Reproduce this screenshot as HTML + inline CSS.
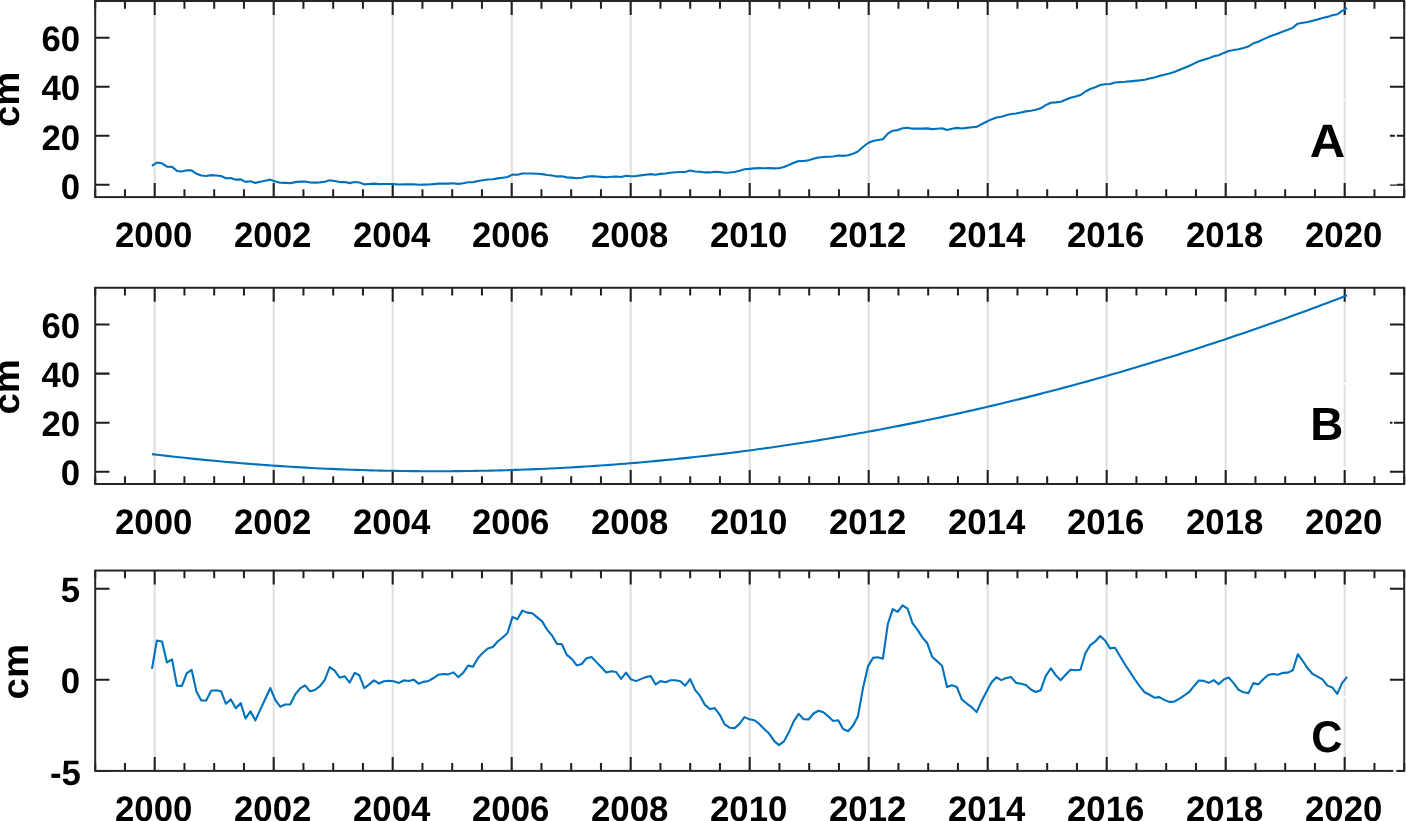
<!DOCTYPE html>
<html lang="en"><head><meta charset="utf-8"><title>Sea level time series</title>
<style>
html,body{margin:0;padding:0;background:#fff;}
body{width:1406px;height:821px;overflow:hidden;}
svg{display:block;}
svg text{font-family:"Liberation Sans",sans-serif;font-weight:bold;font-size:35px;fill:#000;text-rendering:geometricPrecision;}
svg text.yl{font-size:38.3px;}
svg text.pl{font-size:45px;}
</style></head><body>
<svg width="1406" height="821" viewBox="0 0 1406 821">
<rect width="1406" height="821" fill="#fff"/>
<g><path d="M154.70 1.00V197.10M273.70 1.00V197.10M392.70 1.00V197.10M511.70 1.00V197.10M630.70 1.00V197.10M749.70 1.00V197.10M868.70 1.00V197.10M987.70 1.00V197.10M1106.70 1.00V197.10M1225.70 1.00V197.10M1344.70 1.00V197.10" stroke="#e1e1e1" stroke-width="2.2" fill="none"/><path d="M95.20 1.00v7.8M95.20 197.10v-7.8M124.95 1.00v7.8M124.95 197.10v-7.8M184.45 1.00v7.8M184.45 197.10v-7.8M214.20 1.00v7.8M214.20 197.10v-7.8M243.95 1.00v7.8M243.95 197.10v-7.8M303.45 1.00v7.8M303.45 197.10v-7.8M333.20 1.00v7.8M333.20 197.10v-7.8M362.95 1.00v7.8M362.95 197.10v-7.8M422.45 1.00v7.8M422.45 197.10v-7.8M452.20 1.00v7.8M452.20 197.10v-7.8M481.95 1.00v7.8M481.95 197.10v-7.8M541.45 1.00v7.8M541.45 197.10v-7.8M571.20 1.00v7.8M571.20 197.10v-7.8M600.95 1.00v7.8M600.95 197.10v-7.8M660.45 1.00v7.8M660.45 197.10v-7.8M690.20 1.00v7.8M690.20 197.10v-7.8M719.95 1.00v7.8M719.95 197.10v-7.8M779.45 1.00v7.8M779.45 197.10v-7.8M809.20 1.00v7.8M809.20 197.10v-7.8M838.95 1.00v7.8M838.95 197.10v-7.8M898.45 1.00v7.8M898.45 197.10v-7.8M928.20 1.00v7.8M928.20 197.10v-7.8M957.95 1.00v7.8M957.95 197.10v-7.8M1017.45 1.00v7.8M1017.45 197.10v-7.8M1047.20 1.00v7.8M1047.20 197.10v-7.8M1076.95 1.00v7.8M1076.95 197.10v-7.8M1136.45 1.00v7.8M1136.45 197.10v-7.8M1166.20 1.00v7.8M1166.20 197.10v-7.8M1195.95 1.00v7.8M1195.95 197.10v-7.8M1255.45 1.00v7.8M1255.45 197.10v-7.8M1285.20 1.00v7.8M1285.20 197.10v-7.8M1314.95 1.00v7.8M1314.95 197.10v-7.8M1374.45 1.00v7.8M1374.45 197.10v-7.8M1404.20 1.00v7.8M1404.20 197.10v-7.8" stroke="#1e1e1e" stroke-width="2" fill="none"/><path d="M154.70 1.00v14M154.70 197.10v-14M273.70 1.00v14M273.70 197.10v-14M392.70 1.00v14M392.70 197.10v-14M511.70 1.00v14M511.70 197.10v-14M630.70 1.00v14M630.70 197.10v-14M749.70 1.00v14M749.70 197.10v-14M868.70 1.00v14M868.70 197.10v-14M987.70 1.00v14M987.70 197.10v-14M1106.70 1.00v14M1106.70 197.10v-14M1225.70 1.00v14M1225.70 197.10v-14M1344.70 1.00v14M1344.70 197.10v-14M95.20 184.84h14.3M1404.20 184.84h-14.3M95.20 135.82h14.3M1404.20 135.82h-14.3M95.20 86.79h14.3M1404.20 86.79h-14.3M95.20 37.77h14.3M1404.20 37.77h-14.3" stroke="#1e1e1e" stroke-width="2.05" fill="none"/><rect x="95.2" y="1.0" width="1309.0" height="196.10" stroke="#262626" stroke-width="2" fill="none"/><rect x="1343" y="99.7" width="4" height="1.6" fill="#fff"/><rect x="1394.8" y="134" width="2" height="3.2" fill="#fff"/><rect x="1389.3" y="183.0" width="7.7" height="1.5" fill="#fff"/><polyline points="151.94,165.77 156.87,162.55 161.99,163.27 166.92,166.67 172.04,166.83 176.97,170.92 181.91,171.48 186.66,170.31 191.59,170.34 196.52,173.79 201.28,175.45 206.21,175.94 211.14,175.11 216.26,175.52 221.01,176.08 225.94,178.22 230.88,178.06 235.81,179.67 240.74,179.39 245.49,181.87 250.43,181.28 255.36,182.89 260.29,181.81 265.23,180.75 270.34,179.64 275.28,181.58 280.21,182.82 285.14,182.84 290.26,183.17 295.19,182.11 300.13,181.59 305.06,181.45 309.99,182.53 314.93,182.60 319.86,182.35 324.80,181.73 329.73,180.24 334.66,180.95 339.64,182.09 344.57,182.09 349.69,183.14 354.62,182.01 359.38,182.49 364.31,184.37 369.24,184.02 373.99,183.61 378.93,184.15 383.86,183.97 388.79,184.00 393.73,184.17 398.66,184.48 403.78,184.21 408.71,184.34 413.64,184.22 418.58,184.81 423.51,184.59 428.63,184.49 433.56,184.11 438.49,183.67 443.43,183.56 448.36,183.59 453.29,183.28 458.23,183.88 463.16,183.27 468.09,182.22 473.03,182.30 477.96,181.03 482.89,180.25 487.83,179.56 492.76,179.25 497.70,178.39 502.63,177.72 507.56,176.96 512.50,174.64 517.43,174.79 522.36,173.46 527.34,173.55 532.28,173.43 537.21,173.78 542.14,174.11 547.08,174.99 552.01,175.54 556.94,176.42 561.88,176.21 566.81,177.37 571.74,177.63 576.68,178.23 581.61,177.73 586.54,176.66 591.48,176.17 596.41,176.53 601.34,176.88 606.28,177.24 611.21,176.71 616.14,176.43 621.08,176.99 626.01,175.74 630.94,176.24 635.88,176.08 640.81,175.38 645.75,174.68 650.68,174.09 655.61,174.77 660.55,173.86 665.48,173.53 670.41,172.78 675.35,172.28 680.28,171.93 685.21,172.00 690.15,170.59 695.08,171.51 700.01,171.77 704.95,172.42 709.88,172.42 714.81,171.72 719.79,172.01 724.73,172.72 729.66,172.55 734.59,171.98 739.53,170.79 744.46,169.24 749.39,168.89 754.33,168.35 759.26,168.17 764.19,168.18 769.13,168.10 774.06,168.38 778.99,168.24 783.93,167.03 788.86,165.06 793.80,162.82 798.73,161.09 803.66,161.04 808.60,160.31 813.53,158.72 818.46,157.56 823.40,156.95 828.33,156.70 833.26,156.49 838.20,155.55 843.13,155.89 848.06,155.33 853.00,153.73 857.93,151.57 862.86,147.00 868.07,142.99 873.01,140.98 877.94,139.98 882.87,139.25 887.81,133.64 892.74,130.68 897.67,130.09 902.61,128.23 907.54,127.69 912.47,128.67 917.41,128.53 922.34,128.58 927.27,128.34 932.21,129.15 937.14,128.68 942.07,128.24 947.01,130.05 951.94,128.73 956.87,127.90 961.81,128.45 966.74,127.91 971.67,127.29 976.61,126.83 981.54,124.22 986.48,121.80 991.41,119.41 996.34,117.53 1001.28,116.75 1006.21,115.27 1011.14,113.95 1016.08,113.53 1021.01,112.44 1025.94,111.36 1030.88,110.73 1035.81,109.83 1040.74,108.32 1045.68,105.16 1050.84,102.77 1055.77,102.41 1060.71,101.78 1065.64,99.73 1070.57,97.74 1075.51,96.49 1080.44,95.07 1085.37,91.51 1090.31,89.04 1095.24,87.18 1100.17,85.06 1105.11,84.28 1110.04,83.93 1114.97,82.44 1119.91,82.13 1124.84,81.80 1129.77,81.34 1134.71,80.91 1139.64,80.38 1144.57,79.72 1149.51,78.58 1154.44,77.47 1159.38,75.89 1164.31,74.75 1169.24,73.49 1174.18,71.93 1179.11,69.99 1184.04,68.01 1188.98,65.98 1193.91,63.59 1198.84,61.24 1203.78,59.69 1208.71,58.35 1213.73,56.33 1218.66,55.24 1223.78,52.90 1228.71,51.00 1233.65,50.08 1238.58,49.32 1243.51,47.95 1248.45,46.38 1253.38,43.33 1258.31,41.79 1263.25,39.38 1268.18,37.08 1273.11,35.19 1278.05,33.53 1282.98,31.52 1287.92,29.72 1292.85,27.62 1297.78,23.66 1302.72,22.76 1307.65,21.93 1312.58,20.86 1317.52,19.40 1322.45,17.92 1327.38,16.90 1332.32,15.27 1337.25,14.26 1342.18,10.89 1347.12,8.18" stroke="#0072bd" stroke-width="2.1" fill="none" stroke-linejoin="round"/><text transform="translate(153.70 247.00) scale(.993 1.012)" text-anchor="middle">2000</text><text transform="translate(272.70 247.00) scale(.993 1.012)" text-anchor="middle">2002</text><text transform="translate(391.70 247.00) scale(.993 1.012)" text-anchor="middle">2004</text><text transform="translate(510.70 247.00) scale(.993 1.012)" text-anchor="middle">2006</text><text transform="translate(629.70 247.00) scale(.993 1.012)" text-anchor="middle">2008</text><text transform="translate(748.70 247.00) scale(.993 1.012)" text-anchor="middle">2010</text><text transform="translate(867.70 247.00) scale(.993 1.012)" text-anchor="middle">2012</text><text transform="translate(986.70 247.00) scale(.993 1.012)" text-anchor="middle">2014</text><text transform="translate(1105.70 247.00) scale(.993 1.012)" text-anchor="middle">2016</text><text transform="translate(1224.70 247.00) scale(.993 1.012)" text-anchor="middle">2018</text><text transform="translate(1343.70 247.00) scale(.993 1.012)" text-anchor="middle">2020</text><text transform="translate(80.1 199.14) scale(.993 1.012)" text-anchor="end">0</text><text transform="translate(80.1 149.62) scale(.993 1.012)" text-anchor="end">20</text><text transform="translate(80.1 99.99) scale(.993 1.012)" text-anchor="end">40</text><text transform="translate(80.1 50.82) scale(.993 1.012)" text-anchor="end">60</text><text transform="translate(19.35 99.45) rotate(-90) scale(1 .96)" text-anchor="middle" class="yl">cm</text><text transform="translate(1327.5 156.9) scale(1.0896 1.039)" text-anchor="middle" class="pl">A</text></g>
<g><path d="M154.70 287.75V484.00M273.70 287.75V484.00M392.70 287.75V484.00M511.70 287.75V484.00M630.70 287.75V484.00M749.70 287.75V484.00M868.70 287.75V484.00M987.70 287.75V484.00M1106.70 287.75V484.00M1225.70 287.75V484.00M1344.70 287.75V484.00" stroke="#e1e1e1" stroke-width="2.2" fill="none"/><path d="M95.20 287.75v7.8M95.20 484.00v-7.8M124.95 287.75v7.8M124.95 484.00v-7.8M184.45 287.75v7.8M184.45 484.00v-7.8M214.20 287.75v7.8M214.20 484.00v-7.8M243.95 287.75v7.8M243.95 484.00v-7.8M303.45 287.75v7.8M303.45 484.00v-7.8M333.20 287.75v7.8M333.20 484.00v-7.8M362.95 287.75v7.8M362.95 484.00v-7.8M422.45 287.75v7.8M422.45 484.00v-7.8M452.20 287.75v7.8M452.20 484.00v-7.8M481.95 287.75v7.8M481.95 484.00v-7.8M541.45 287.75v7.8M541.45 484.00v-7.8M571.20 287.75v7.8M571.20 484.00v-7.8M600.95 287.75v7.8M600.95 484.00v-7.8M660.45 287.75v7.8M660.45 484.00v-7.8M690.20 287.75v7.8M690.20 484.00v-7.8M719.95 287.75v7.8M719.95 484.00v-7.8M779.45 287.75v7.8M779.45 484.00v-7.8M809.20 287.75v7.8M809.20 484.00v-7.8M838.95 287.75v7.8M838.95 484.00v-7.8M898.45 287.75v7.8M898.45 484.00v-7.8M928.20 287.75v7.8M928.20 484.00v-7.8M957.95 287.75v7.8M957.95 484.00v-7.8M1017.45 287.75v7.8M1017.45 484.00v-7.8M1047.20 287.75v7.8M1047.20 484.00v-7.8M1076.95 287.75v7.8M1076.95 484.00v-7.8M1136.45 287.75v7.8M1136.45 484.00v-7.8M1166.20 287.75v7.8M1166.20 484.00v-7.8M1195.95 287.75v7.8M1195.95 484.00v-7.8M1255.45 287.75v7.8M1255.45 484.00v-7.8M1285.20 287.75v7.8M1285.20 484.00v-7.8M1314.95 287.75v7.8M1314.95 484.00v-7.8M1374.45 287.75v7.8M1374.45 484.00v-7.8M1404.20 287.75v7.8M1404.20 484.00v-7.8" stroke="#1e1e1e" stroke-width="2" fill="none"/><path d="M154.70 287.75v14M154.70 484.00v-14M273.70 287.75v14M273.70 484.00v-14M392.70 287.75v14M392.70 484.00v-14M511.70 287.75v14M511.70 484.00v-14M630.70 287.75v14M630.70 484.00v-14M749.70 287.75v14M749.70 484.00v-14M868.70 287.75v14M868.70 484.00v-14M987.70 287.75v14M987.70 484.00v-14M1106.70 287.75v14M1106.70 484.00v-14M1225.70 287.75v14M1225.70 484.00v-14M1344.70 287.75v14M1344.70 484.00v-14M95.20 471.73h14.3M1404.20 471.73h-14.3M95.20 422.67h14.3M1404.20 422.67h-14.3M95.20 373.61h14.3M1404.20 373.61h-14.3M95.20 324.55h14.3M1404.20 324.55h-14.3" stroke="#1e1e1e" stroke-width="2.05" fill="none"/><rect x="95.2" y="287.75" width="1309.0" height="196.25" stroke="#262626" stroke-width="2" fill="none"/><rect x="1343" y="382.8" width="4" height="1.8" fill="#fff"/><rect x="1392.4" y="421" width="1.6" height="3.2" fill="#fff"/><rect x="1343" y="466.6" width="4" height="2.9" fill="#fff"/><polyline points="151.94,454.12 156.92,454.72 161.90,455.30 166.88,455.88 171.86,456.44 176.84,456.99 181.82,457.53 186.80,458.07 191.78,458.59 196.76,459.10 201.74,459.60 206.72,460.09 211.70,460.57 216.68,461.04 221.66,461.49 226.64,461.94 231.62,462.38 236.60,462.80 241.58,463.22 246.56,463.63 251.54,464.02 256.52,464.41 261.50,464.78 266.48,465.14 271.46,465.50 276.44,465.84 281.42,466.17 286.40,466.49 291.38,466.80 296.36,467.10 301.34,467.39 306.32,467.67 311.30,467.94 316.28,468.20 321.26,468.45 326.24,468.68 331.22,468.91 336.20,469.13 341.18,469.33 346.16,469.53 351.14,469.71 356.12,469.89 361.10,470.05 366.08,470.20 371.06,470.35 376.04,470.48 381.02,470.60 386.00,470.71 390.98,470.81 395.96,470.90 400.94,470.98 405.92,471.05 410.90,471.11 415.88,471.16 420.86,471.19 425.84,471.22 430.82,471.24 435.80,471.24 440.77,471.24 445.75,471.22 450.73,471.20 455.71,471.16 460.69,471.12 465.67,471.06 470.65,470.99 475.63,470.91 480.61,470.82 485.59,470.73 490.57,470.62 495.55,470.50 500.53,470.36 505.51,470.22 510.49,470.07 515.47,469.91 520.45,469.74 525.43,469.55 530.41,469.36 535.39,469.16 540.37,468.94 545.35,468.72 550.33,468.48 555.31,468.23 560.29,467.98 565.27,467.71 570.25,467.43 575.23,467.14 580.21,466.84 585.19,466.53 590.17,466.21 595.15,465.88 600.13,465.54 605.11,465.19 610.09,464.83 615.07,464.46 620.05,464.07 625.03,463.68 630.01,463.28 634.99,462.86 639.97,462.44 644.95,462.00 649.93,461.56 654.91,461.10 659.89,460.63 664.87,460.15 669.85,459.67 674.83,459.17 679.81,458.66 684.79,458.14 689.77,457.61 694.75,457.07 699.73,456.52 704.71,455.95 709.69,455.38 714.67,454.80 719.65,454.21 724.63,453.60 729.61,452.99 734.59,452.36 739.57,451.73 744.55,451.08 749.53,450.43 754.51,449.76 759.49,449.08 764.47,448.39 769.45,447.69 774.43,446.99 779.41,446.27 784.39,445.54 789.37,444.80 794.35,444.05 799.33,443.28 804.31,442.51 809.29,441.73 814.27,440.94 819.25,440.13 824.23,439.32 829.21,438.49 834.19,437.66 839.17,436.81 844.15,435.96 849.13,435.09 854.11,434.21 859.09,433.33 864.07,432.43 869.05,431.52 874.03,430.60 879.01,429.67 883.99,428.73 888.97,427.78 893.95,426.82 898.93,425.85 903.91,424.86 908.89,423.87 913.87,422.87 918.85,421.85 923.83,420.83 928.81,419.79 933.79,418.75 938.77,417.69 943.75,416.63 948.72,415.55 953.70,414.46 958.68,413.36 963.66,412.26 968.64,411.14 973.62,410.01 978.60,408.87 983.58,407.72 988.56,406.56 993.54,405.39 998.52,404.20 1003.50,403.01 1008.48,401.81 1013.46,400.59 1018.44,399.37 1023.42,398.14 1028.40,396.89 1033.38,395.63 1038.36,394.37 1043.34,393.09 1048.32,391.80 1053.30,390.51 1058.28,389.20 1063.26,387.88 1068.24,386.55 1073.22,385.21 1078.20,383.86 1083.18,382.50 1088.16,381.13 1093.14,379.75 1098.12,378.35 1103.10,376.95 1108.08,375.54 1113.06,374.11 1118.04,372.68 1123.02,371.24 1128.00,369.78 1132.98,368.31 1137.96,366.84 1142.94,365.35 1147.92,363.85 1152.90,362.35 1157.88,360.83 1162.86,359.30 1167.84,357.76 1172.82,356.21 1177.80,354.65 1182.78,353.08 1187.76,351.50 1192.74,349.90 1197.72,348.30 1202.70,346.69 1207.68,345.06 1212.66,343.43 1217.64,341.79 1222.62,340.13 1227.60,338.47 1232.58,336.79 1237.56,335.10 1242.54,333.41 1247.52,331.70 1252.50,329.98 1257.48,328.25 1262.46,326.51 1267.44,324.76 1272.42,323.00 1277.40,321.23 1282.38,319.45 1287.36,317.66 1292.34,315.86 1297.32,314.04 1302.30,312.22 1307.28,310.39 1312.26,308.54 1317.24,306.69 1322.22,304.82 1327.20,302.94 1332.18,301.06 1337.16,299.16 1342.14,297.25 1347.12,295.34" stroke="#0072bd" stroke-width="2.1" fill="none" stroke-linejoin="round"/><text transform="translate(153.70 534.10) scale(.993 1.012)" text-anchor="middle">2000</text><text transform="translate(272.70 534.10) scale(.993 1.012)" text-anchor="middle">2002</text><text transform="translate(391.70 534.10) scale(.993 1.012)" text-anchor="middle">2004</text><text transform="translate(510.70 534.10) scale(.993 1.012)" text-anchor="middle">2006</text><text transform="translate(629.70 534.10) scale(.993 1.012)" text-anchor="middle">2008</text><text transform="translate(748.70 534.10) scale(.993 1.012)" text-anchor="middle">2010</text><text transform="translate(867.70 534.10) scale(.993 1.012)" text-anchor="middle">2012</text><text transform="translate(986.70 534.10) scale(.993 1.012)" text-anchor="middle">2014</text><text transform="translate(1105.70 534.10) scale(.993 1.012)" text-anchor="middle">2016</text><text transform="translate(1224.70 534.10) scale(.993 1.012)" text-anchor="middle">2018</text><text transform="translate(1343.70 534.10) scale(.993 1.012)" text-anchor="middle">2020</text><text transform="translate(80.1 484.83) scale(.993 1.012)" text-anchor="end">0</text><text transform="translate(80.1 435.97) scale(.993 1.012)" text-anchor="end">20</text><text transform="translate(80.1 386.71) scale(.993 1.012)" text-anchor="end">40</text><text transform="translate(80.1 337.65) scale(.993 1.012)" text-anchor="end">60</text><text transform="translate(19.15 386.77) rotate(-90) scale(1 .96)" text-anchor="middle" class="yl">cm</text><text transform="translate(1326.9 439.9) scale(1.02 1.033)" text-anchor="middle" class="pl">B</text></g>
<g><path d="M154.70 570.55V770.90M273.70 570.55V770.90M392.70 570.55V770.90M511.70 570.55V770.90M630.70 570.55V770.90M749.70 570.55V770.90M868.70 570.55V770.90M987.70 570.55V770.90M1106.70 570.55V770.90M1225.70 570.55V770.90M1344.70 570.55V770.90" stroke="#e1e1e1" stroke-width="2.2" fill="none"/><path d="M95.20 570.55v7.8M95.20 770.90v-7.8M124.95 570.55v7.8M124.95 770.90v-7.8M184.45 570.55v7.8M184.45 770.90v-7.8M214.20 570.55v7.8M214.20 770.90v-7.8M243.95 570.55v7.8M243.95 770.90v-7.8M303.45 570.55v7.8M303.45 770.90v-7.8M333.20 570.55v7.8M333.20 770.90v-7.8M362.95 570.55v7.8M362.95 770.90v-7.8M422.45 570.55v7.8M422.45 770.90v-7.8M452.20 570.55v7.8M452.20 770.90v-7.8M481.95 570.55v7.8M481.95 770.90v-7.8M541.45 570.55v7.8M541.45 770.90v-7.8M571.20 570.55v7.8M571.20 770.90v-7.8M600.95 570.55v7.8M600.95 770.90v-7.8M660.45 570.55v7.8M660.45 770.90v-7.8M690.20 570.55v7.8M690.20 770.90v-7.8M719.95 570.55v7.8M719.95 770.90v-7.8M779.45 570.55v7.8M779.45 770.90v-7.8M809.20 570.55v7.8M809.20 770.90v-7.8M838.95 570.55v7.8M838.95 770.90v-7.8M898.45 570.55v7.8M898.45 770.90v-7.8M928.20 570.55v7.8M928.20 770.90v-7.8M957.95 570.55v7.8M957.95 770.90v-7.8M1017.45 570.55v7.8M1017.45 770.90v-7.8M1047.20 570.55v7.8M1047.20 770.90v-7.8M1076.95 570.55v7.8M1076.95 770.90v-7.8M1136.45 570.55v7.8M1136.45 770.90v-7.8M1166.20 570.55v7.8M1166.20 770.90v-7.8M1195.95 570.55v7.8M1195.95 770.90v-7.8M1255.45 570.55v7.8M1255.45 770.90v-7.8M1285.20 570.55v7.8M1285.20 770.90v-7.8M1314.95 570.55v7.8M1314.95 770.90v-7.8M1374.45 570.55v7.8M1374.45 770.90v-7.8M1404.20 570.55v7.8M1404.20 770.90v-7.8" stroke="#1e1e1e" stroke-width="2" fill="none"/><path d="M154.70 570.55v14M154.70 770.90v-14M273.70 570.55v14M273.70 770.90v-14M392.70 570.55v14M392.70 770.90v-14M511.70 570.55v14M511.70 770.90v-14M630.70 570.55v14M630.70 770.90v-14M749.70 570.55v14M749.70 770.90v-14M868.70 570.55v14M868.70 770.90v-14M987.70 570.55v14M987.70 770.90v-14M1106.70 570.55v14M1106.70 770.90v-14M1225.70 570.55v14M1225.70 770.90v-14M1344.70 570.55v14M1344.70 770.90v-14M95.20 770.90h14.3M1404.20 770.90h-14.3M95.20 679.83h14.3M1404.20 679.83h-14.3M95.20 588.76h14.3M1404.20 588.76h-14.3" stroke="#1e1e1e" stroke-width="2.05" fill="none"/><rect x="95.2" y="570.55" width="1309.0" height="200.35" stroke="#262626" stroke-width="2" fill="none"/><rect x="1343" y="695.6" width="4" height="2.4" fill="#fff"/><rect x="1393.2" y="768.6" width="3.1" height="4" fill="#fff"/><polyline points="151.94,668.88 156.87,640.57 161.99,641.49 166.92,662.49 172.04,659.39 176.97,685.69 181.91,685.87 186.66,673.45 191.59,669.80 196.52,691.72 201.28,700.48 206.21,700.48 211.14,690.80 216.26,690.25 221.01,691.17 225.94,703.77 230.88,699.39 235.81,708.15 240.74,703.04 245.49,718.56 250.43,711.26 255.36,720.39 260.29,709.62 265.23,699.02 270.34,688.06 275.28,699.93 280.21,706.69 285.14,704.50 290.26,704.50 295.19,694.46 300.13,688.43 305.06,685.32 309.99,691.35 314.93,689.89 319.86,686.24 324.80,679.84 329.73,667.06 334.66,670.71 339.64,677.65 344.57,676.19 349.69,682.58 354.62,672.90 359.38,675.28 364.31,688.06 369.24,684.41 373.99,680.39 378.93,683.50 383.86,681.30 388.79,680.76 393.73,681.30 398.66,682.95 403.78,680.39 408.71,680.94 413.64,679.66 418.58,683.68 423.51,681.85 428.63,680.94 433.56,678.02 438.49,674.73 443.43,674.00 448.36,674.36 453.29,672.35 458.23,677.10 463.16,672.90 468.09,665.60 473.03,666.69 477.96,657.93 482.89,652.81 487.83,648.43 492.76,646.97 497.70,641.49 502.63,637.47 507.56,632.90 512.50,616.83 517.43,619.20 522.36,610.62 527.34,612.63 532.28,613.18 537.21,617.38 542.14,621.40 547.08,629.62 552.01,635.46 556.94,643.86 561.88,644.23 566.81,654.82 571.74,658.84 576.68,665.41 581.61,663.95 586.54,658.29 591.48,657.01 596.41,662.13 601.34,667.24 606.28,672.54 611.21,671.26 616.14,671.99 621.08,678.93 626.01,672.54 630.94,679.30 635.88,681.12 640.81,679.11 645.75,677.10 650.68,676.01 655.61,684.41 660.55,681.12 665.48,682.22 670.41,680.21 675.35,680.21 680.28,681.30 685.21,685.69 690.15,679.11 695.08,689.89 700.01,695.92 704.95,704.87 709.88,709.07 714.81,708.15 719.79,714.77 724.73,724.46 729.66,727.74 734.59,728.11 739.53,723.91 744.46,717.15 749.39,719.34 754.33,720.25 759.26,723.91 764.19,729.02 769.13,733.59 774.06,740.89 778.99,745.09 783.93,741.44 788.86,732.31 793.80,721.17 798.73,713.86 803.66,719.16 808.60,719.52 813.53,713.50 818.46,710.76 823.40,712.22 828.33,716.42 833.26,720.98 838.20,720.25 843.13,729.02 848.06,731.21 853.00,725.73 857.93,716.24 862.86,688.84 868.07,666.10 873.01,657.88 877.94,657.33 882.87,658.79 887.81,624.09 892.74,609.11 897.67,611.85 902.61,605.28 907.54,608.56 912.47,623.18 917.41,629.57 922.34,637.42 927.27,643.27 932.21,656.97 937.14,661.17 942.07,665.73 947.01,687.10 951.94,685.28 956.87,687.10 961.81,699.34 966.74,703.54 971.67,707.19 976.61,712.13 981.54,701.17 986.48,691.67 991.41,682.54 996.34,677.24 1001.28,680.16 1006.21,677.97 1011.14,677.06 1016.08,682.90 1021.01,683.82 1025.94,684.91 1030.88,689.48 1035.81,692.04 1040.74,690.21 1045.68,676.14 1050.84,668.29 1055.77,675.23 1060.71,680.16 1065.64,674.68 1070.57,669.75 1075.51,670.30 1080.44,669.75 1085.37,653.31 1090.31,645.09 1095.24,641.44 1100.17,635.96 1105.11,640.53 1110.04,648.38 1114.97,647.83 1119.91,656.05 1124.84,664.27 1129.77,671.58 1134.71,679.25 1139.64,686.19 1144.57,692.22 1149.51,694.77 1154.44,697.70 1159.38,697.15 1164.31,699.89 1169.24,701.90 1174.18,701.72 1179.11,698.79 1184.04,695.69 1188.98,692.22 1193.91,686.19 1198.84,680.53 1203.78,680.89 1208.71,682.90 1213.73,680.16 1218.66,684.18 1223.78,679.43 1228.71,677.61 1233.65,683.09 1238.58,689.84 1243.51,692.22 1248.45,693.13 1253.38,683.09 1258.31,684.36 1263.25,679.25 1268.18,675.05 1273.11,673.95 1278.05,674.68 1282.98,672.86 1287.92,672.67 1292.85,670.30 1297.78,654.23 1302.72,660.98 1307.65,668.29 1312.58,673.95 1317.52,676.69 1322.45,679.43 1327.38,685.64 1332.32,687.47 1337.25,693.86 1342.18,682.90 1347.12,676.88" stroke="#0072bd" stroke-width="2.1" fill="none" stroke-linejoin="round"/><text transform="translate(153.70 821.20) scale(.993 1.012)" text-anchor="middle">2000</text><text transform="translate(272.70 821.20) scale(.993 1.012)" text-anchor="middle">2002</text><text transform="translate(391.70 821.20) scale(.993 1.012)" text-anchor="middle">2004</text><text transform="translate(510.70 821.20) scale(.993 1.012)" text-anchor="middle">2006</text><text transform="translate(629.70 821.20) scale(.993 1.012)" text-anchor="middle">2008</text><text transform="translate(748.70 821.20) scale(.993 1.012)" text-anchor="middle">2010</text><text transform="translate(867.70 821.20) scale(.993 1.012)" text-anchor="middle">2012</text><text transform="translate(986.70 821.20) scale(.993 1.012)" text-anchor="middle">2014</text><text transform="translate(1105.70 821.20) scale(.993 1.012)" text-anchor="middle">2016</text><text transform="translate(1224.70 821.20) scale(.993 1.012)" text-anchor="middle">2018</text><text transform="translate(1343.70 821.20) scale(.993 1.012)" text-anchor="middle">2020</text><text transform="translate(80.8 785.10) scale(.993 1.012)" text-anchor="end">-5</text><text transform="translate(80.1 693.33) scale(.993 1.012)" text-anchor="end">0</text><text transform="translate(80.1 601.96) scale(.993 1.012)" text-anchor="end">5</text><text transform="translate(27.6 671.72) rotate(-90) scale(1 .96)" text-anchor="middle" class="yl">cm</text><text transform="translate(1326.8 752.45) scale(0.96 0.987)" text-anchor="middle" class="pl">C</text></g>
</svg>
</body></html>
